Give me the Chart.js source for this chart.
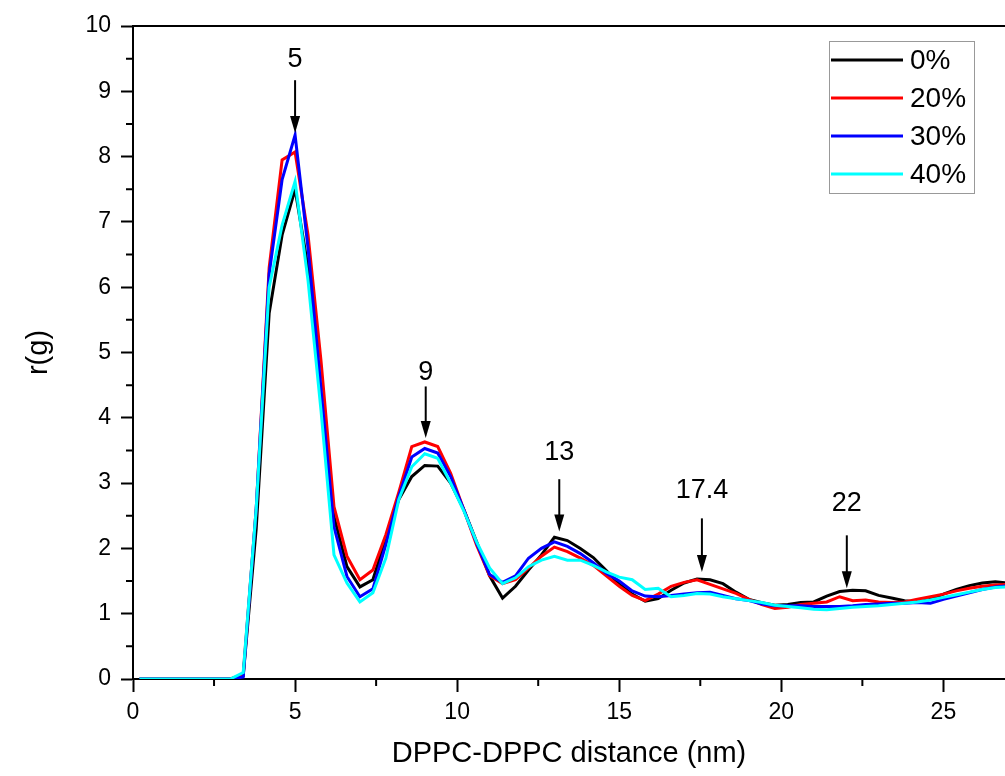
<!DOCTYPE html>
<html>
<head>
<meta charset="utf-8">
<script src="https://cdn.jsdelivr.net/npm/chart.js@4/dist/chart.umd.min.js"></script>
<style>
  body { margin: 0; background: #fff; }
</style>
</head>
<body>
<canvas id="rdfChart" width="1005" height="776"></canvas>
<script>
// 0. データ
let distance = [0.2,0.6,1.0,1.4,1.8,2.2,2.6,3.0,3.4,3.8,4.2,4.6,5.0,5.4,5.8,6.2,6.6,7.0,7.4,7.8,
  8.2,8.6,9.0,9.4,9.8,10.2,10.6,11.0,11.4,11.8,12.2,12.6,13.0,13.4,13.8,14.2,14.6,15.0,15.4,15.8,
  16.2,16.6,17.0,17.4,17.8,18.2,18.6,19.0,19.4,19.8,20.2,20.6,21.0,21.4,21.8,22.2,22.6,23.0,23.4,23.8,
  24.2,24.6,25.0,25.4,25.8,26.2,26.6,27.0];
let seriesNames = ['0%', '20%', '30%', '40%'];
let g0 = [0,0,0,0,0,0,0,0,0.05,2.3,5.6,6.8,7.5,6.3,4.3,2.49,1.72,1.41,1.52,2.15,
  2.75,3.1,3.27,3.26,3.0,2.6,2.1,1.58,1.24,1.42,1.67,1.9,2.17,2.12,2.0,1.86,1.66,1.45,1.3,1.19,
  1.23,1.36,1.47,1.53,1.52,1.46,1.33,1.22,1.17,1.13,1.14,1.17,1.18,1.27,1.34,1.36,1.35,1.28,1.24,1.2,
  1.18,1.22,1.3,1.37,1.43,1.47,1.49,1.47];
let g20 = [0,0,0,0,0,0,0,0,0.07,2.6,6.3,7.95,8.07,6.8,4.87,2.64,1.88,1.52,1.67,2.21,
  2.86,3.56,3.63,3.56,3.15,2.6,2.05,1.58,1.46,1.52,1.7,1.88,2.02,1.95,1.85,1.74,1.58,1.42,1.28,1.2,
  1.3,1.42,1.48,1.52,1.45,1.38,1.31,1.22,1.14,1.08,1.1,1.14,1.16,1.18,1.26,1.2,1.21,1.18,1.17,1.18,
  1.22,1.26,1.3,1.35,1.39,1.42,1.44,1.45];
let g30 = [0,0,0,0,0,0,0,0,0.03,2.6,6.2,7.65,8.33,6.6,4.44,2.33,1.57,1.26,1.38,2.06,
  2.8,3.4,3.53,3.46,3.1,2.6,2.08,1.6,1.48,1.58,1.85,2.0,2.1,2.03,1.92,1.78,1.62,1.5,1.35,1.27,
  1.26,1.28,1.3,1.32,1.33,1.28,1.23,1.2,1.15,1.12,1.12,1.12,1.11,1.11,1.11,1.12,1.14,1.15,1.16,1.16,
  1.17,1.16,1.22,1.27,1.32,1.37,1.41,1.43];
let g40 = [0,0,0,0,0,0,0,0,0.1,2.6,6.0,6.95,7.62,6.1,4.11,1.9,1.47,1.18,1.32,1.85,
  2.75,3.25,3.45,3.38,3.0,2.58,2.1,1.7,1.46,1.55,1.72,1.82,1.88,1.82,1.82,1.74,1.64,1.56,1.52,1.37,
  1.39,1.26,1.28,1.31,1.3,1.26,1.23,1.2,1.17,1.13,1.11,1.09,1.07,1.06,1.08,1.1,1.11,1.12,1.14,1.16,
  1.18,1.21,1.25,1.29,1.33,1.37,1.4,1.41];
// ピークの注釈 (矢印)
let peakLabels = ['5', '9', '13', '17.4', '22'];
let peakX = [5.0, 9.03, 13.15, 17.55, 22.02];
let arrowTop = [9.17, 4.48, 3.06, 2.46, 2.2];
let arrowTip = [8.36, 3.69, 2.26, 1.64, 1.39];
let labelY = [9.49, 4.7, 3.47, 2.88, 2.69];

let colors = ['#000000', '#ff0000', '#0000ff', '#00ffff'];
let fontFamily = "Arial, 'Liberation Sans', sans-serif";

// 1. 目盛り・矢印・凡例を描くプラグイン
let decoPlugin = {
  id: 'deco',
  afterDraw: function(chart) {
    let ctx = chart.ctx;
    let area = chart.chartArea;
    let xs = chart.scales.x;
    let ys = chart.scales.y;
    ctx.save();
    ctx.strokeStyle = '#000';
    ctx.lineWidth = 2;
    // 上の枠線
    ctx.beginPath();
    ctx.moveTo(area.left, area.top);
    ctx.lineTo(area.right, area.top);
    ctx.stroke();
    // 補助目盛り
    ctx.beginPath();
    for (let v = 2.5; v < xs.max; v += 5) {
      let p = xs.getPixelForValue(v);
      ctx.moveTo(p, area.bottom);
      ctx.lineTo(p, area.bottom + 7);
    }
    for (let v = 0.5; v < ys.max; v += 1) {
      let p = ys.getPixelForValue(v);
      ctx.moveTo(area.left, p);
      ctx.lineTo(area.left - 7, p);
    }
    ctx.stroke();
    // 矢印とラベル
    ctx.fillStyle = '#000';
    ctx.font = '27px ' + fontFamily;
    ctx.textAlign = 'center';
    ctx.textBaseline = 'middle';
    for (let i = 0; i < peakLabels.length; i++) {
      let px = xs.getPixelForValue(peakX[i]);
      let top = ys.getPixelForValue(arrowTop[i]);
      let tip = ys.getPixelForValue(arrowTip[i]);
      ctx.lineWidth = 2;
      ctx.beginPath();
      ctx.moveTo(px, top);
      ctx.lineTo(px, tip - 14);
      ctx.stroke();
      ctx.beginPath();
      ctx.moveTo(px - 5, tip - 17);
      ctx.lineTo(px + 5, tip - 17);
      ctx.lineTo(px, tip);
      ctx.closePath();
      ctx.fill();
      ctx.fillText(peakLabels[i], px, ys.getPixelForValue(labelY[i]));
    }
    // 凡例
    let lx = area.right - 176;
    let ly = area.top + 15;
    ctx.strokeStyle = '#999';
    ctx.lineWidth = 1;
    ctx.strokeRect(lx + 0.5, ly + 0.5, 145, 152);
    ctx.font = '28px ' + fontFamily;
    ctx.textAlign = 'left';
    chart.data.datasets.forEach(function(ds, i) {
      let y = ly + 19 + i * 38;
      ctx.strokeStyle = ds.borderColor;
      ctx.lineWidth = 3;
      ctx.beginPath();
      ctx.moveTo(lx + 2, y);
      ctx.lineTo(lx + 74, y);
      ctx.stroke();
      ctx.fillStyle = '#000';
      ctx.fillText(ds.label, lx + 81, y + 1);
    });
    ctx.restore();
  }
};

// 2. グラフの作成
let allSeries = [g0, g20, g30, g40];
let datasets = [];
for (let i = 0; i < allSeries.length; i++) {
  datasets.push({
    label: seriesNames[i],
    data: allSeries[i],
    borderColor: colors[i],
    backgroundColor: colors[i],
    borderWidth: 3,
    pointRadius: 0,
    tension: 0,
    fill: false,
    order: allSeries.length - i
  });
}

let rdfChart = new Chart(document.getElementById('rdfChart'), {
  type: 'line',
  data: {
    labels: distance,
    datasets: datasets
  },
  options: {
    responsive: false,
    animation: false,
    devicePixelRatio: 1,
    layout: { padding: { top: 26, right: 0, bottom: 0, left: 0 } },
    plugins: {
      legend: { display: false },
      tooltip: { enabled: false }
    },
    scales: {
      x: {
        type: 'linear',
        min: 0,
        max: 26.9,
        afterFit: function(scale) { scale.height = 97; },
        border: { color: '#000', width: 2 },
        grid: { drawOnChartArea: false, drawTicks: true, tickLength: 13, tickWidth: 2, tickColor: '#000' },
        ticks: { stepSize: 5, includeBounds: false, padding: 7, color: '#000', maxRotation: 0,
          font: { family: fontFamily, size: 23 } },
        title: { display: true, text: 'DPPC-DPPC distance (nm)', color: '#000',
          font: { family: fontFamily, size: 29 }, padding: { top: 0, bottom: 5 } }
      },
      y: {
        min: 0,
        max: 10,
        afterFit: function(scale) { scale.width = 133; },
        border: { color: '#000', width: 2 },
        grid: { drawOnChartArea: false, drawTicks: true, tickLength: 12, tickWidth: 2, tickColor: '#000' },
        ticks: { stepSize: 1, padding: 10, color: '#000', font: { family: fontFamily, size: 23 } },
        title: { display: true, text: 'r(g)', color: '#000',
          font: { family: fontFamily, size: 29 }, padding: { top: 22, bottom: 0 } }
      }
    }
  },
  plugins: [decoPlugin]
});
</script>
</body>
</html>
